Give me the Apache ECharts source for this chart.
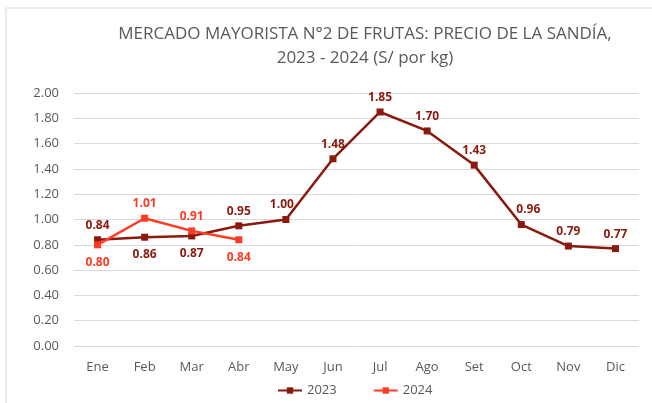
<!DOCTYPE html>
<html>
<head>
<meta charset="utf-8">
<script src="https://cdn.jsdelivr.net/npm/echarts@6/dist/echarts.min.js"></script>
<style>
  html, body { margin: 0; padding: 0; background: #fff; }
  #chart { width: 652px; height: 403px; }
</style>
</head>
<body>
<div id="chart"></div>
<script>
// datos
const meses = ["Ene", "Feb", "Mar", "Abr", "May", "Jun", "Jul", "Ago", "Set", "Oct", "Nov", "Dic"];
const precio_2023 = [0.84, 0.86, 0.87, 0.95, 1.00, 1.48, 1.85, 1.70, 1.43, 0.96, 0.79, 0.77];
const precio_2024 = [0.80, 1.01, 0.91, 0.84];
// posicion de cada etiqueta
const pos_2023 = ["top", "bottom", "bottom", "top", "top", "top", "top", "top", "top", "top", "top", "top"];
const pos_2024 = ["bottom", "top", "top", "bottom"];

const c2023 = "#8B1A0E";
const c2024 = "#FF3B24";
const gris = "#595959";

function armarDatos(vals, pos, color){
    return vals.map((v, i) => {
        let lbl = { position: pos[i], color: color, distance: pos[i] === "top" ? 5 : 8 };
        // Oct y May van un poco corridas en el original
        if (color === c2023 && i === 9) lbl.offset = [7, 0];
        if (color === c2023 && i === 4) lbl.offset = [-4, 0];
        return { value: v, label: lbl };
    });
}

let myChart = echarts.init(document.getElementById("chart"));
let option = {
    backgroundColor: "#fff",
    animation: false,
    textStyle: { fontFamily: "Open Sans" },
    graphic: [{
        type: "rect",
        shape: { x: 6, y: 8, width: 700, height: 450 },
        style: { fill: "none", stroke: "#D9D9D9", lineWidth: 1 }
    }],
    title: {
        text: "MERCADO MAYORISTA N°2 DE FRUTAS: PRECIO DE LA SANDÍA,\n2023 - 2024 (S/ por kg)",
        left: 360,
        top: 17,
        textAlign: "center",
        textStyle: { color: gris, fontSize: 17, fontWeight: "normal", lineHeight: 24, fontFamily: "Open Sans" }
    },
    legend: {
        bottom: 1,
        left: 272,
        itemWidth: 24,
        itemHeight: 8,
        itemGap: 36,
        textStyle: { color: gris, fontSize: 13 },
        data: ["2023", "2024"]
    },
    grid: { left: 74, right: 13, top: 93, bottom: 57 },
    xAxis: {
        type: "category",
        data: meses,
        axisLine: { show: false },
        axisTick: { show: false },
        axisLabel: { color: gris, fontSize: 13, margin: 15 }
    },
    yAxis: {
        type: "value",
        min: 0,
        max: 2,
        interval: 0.2,
        axisLine: { show: false },
        axisTick: { show: false },
        axisLabel: { color: gris, fontSize: 13, margin: 15, formatter: v => v.toFixed(2) },
        splitLine: { lineStyle: { color: "#D9D9D9" } }
    },
    series: [{
        name: "2023",
        type: "line",
        data: armarDatos(precio_2023, pos_2023, c2023),
        symbol: "rect",
        symbolSize: 7,
        itemStyle: { color: c2023 },
        lineStyle: { color: c2023, width: 2.5 },
        label: { show: true, fontSize: 12, fontWeight: "bold", formatter: p => p.value.toFixed(2) },
        z: 2
    }, {
        name: "2024",
        type: "line",
        data: armarDatos(precio_2024, pos_2024, c2024),
        symbol: "rect",
        symbolSize: 7,
        itemStyle: { color: c2024 },
        lineStyle: { color: c2024, width: 2.5 },
        label: { show: true, fontSize: 12, fontWeight: "bold", formatter: p => p.value.toFixed(2) },
        z: 3
    }]
};
myChart.setOption(option);
</script>
</body>
</html>
